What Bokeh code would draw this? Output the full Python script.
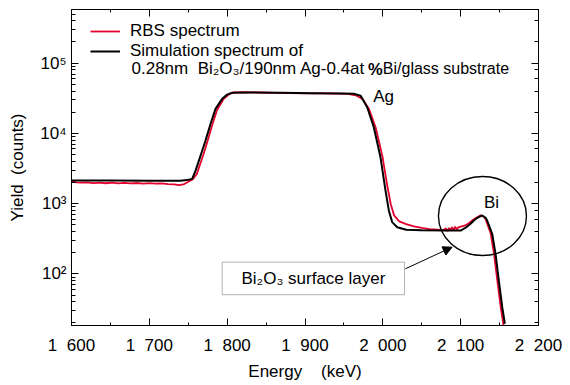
from bokeh.plotting import figure
from bokeh.models import (FixedTicker, LinearAxis, LogAxis, Legend, LegendItem,
                          Label, Arrow, NormalHead, Range1d, BoxAnnotation)
from bokeh.embed import file_html
from bokeh.resources import INLINE

FONT = "Liberation Sans"

# ---------------- data ----------------
energy_sim = [1600, 1650, 1700, 1740, 1748, 1755, 1759.4, 1763.7, 1768, 1772.2, 1778.6,
              1785, 1793.6, 1800, 1806.5, 1830, 1870, 1910, 1950, 1962.7, 1971.3,
              1979.9, 1988.4, 1997, 2003.4, 2007.7, 2012, 2018.5, 2030, 2050, 2080,
              2100, 2106, 2112.7, 2117, 2121.3, 2127.7, 2132, 2134, 2140.5, 2144.8,
              2149, 2153.4, 2156.8]
counts_sim = [2130, 2125, 2120, 2120, 2160, 2250, 2950, 4100, 5700, 7900, 13600,
              22300, 31000, 35600, 38000, 38200, 37800, 37300, 36900, 36600, 34500,
              23500, 12200, 4560, 1540, 800, 545, 462, 425, 418, 414,
              414, 450, 517, 575, 628, 678, 628, 575, 372, 193,
              80.5, 33.6, 19.5]

energy_rbs = [1600, 1606, 1612, 1620, 1628, 1636, 1644, 1652, 1660, 1668, 1676, 1684,
              1692, 1700, 1708, 1716, 1724, 1732, 1738, 1745, 1750, 1756, 1761,
              1765.5, 1770, 1774.5, 1780.5, 1787, 1795.5, 1802, 1808.5, 1820, 1840,
              1860, 1880, 1900, 1920, 1940, 1955, 1965.2, 1973.8, 1982.4, 1990.9,
              1999.5, 2005.9, 2010.2, 2014.5, 2021, 2030, 2040, 2050, 2060, 2070,
              2078, 2081, 2083, 2085, 2087, 2089, 2091, 2093, 2095, 2097, 2100, 2105,
              2111, 2116, 2120, 2125.7, 2130, 2132, 2138.5, 2142.8, 2147, 2151.4,
              2155]
counts_rbs = [2080, 2010, 1990, 2000, 1960, 1985, 1950, 1990, 1945, 1975, 1940, 1965,
              1930, 1955, 1925, 1945, 1900, 1880, 1830, 1900, 2050, 2230, 2650,
              3700, 5200, 7600, 12800, 21500, 31000, 35800, 38300, 38600, 38200,
              37800, 37500, 37200, 37000, 36800, 36600, 34800, 31000, 22000, 12000,
              4700, 1750, 980, 680, 560, 510, 475, 450, 432, 425,
              418, 445, 405, 450, 420, 462, 415, 470, 430, 460, 470, 485,
              530, 590, 630, 680, 650, 600, 380, 195, 82, 34,
              18.5]

x_ticks = [1600, 1700, 1800, 1900, 2000, 2100, 2200]
x_tick_labels = ["1\u00a0\u00a0600", "1\u00a0\u00a0700", "1\u00a0\u00a0800",
                 "1\u00a0\u00a0900", "2\u00a0\u00a0000", "2\u00a0\u00a0100",
                 "2\u00a0\u00a0200"]
x_minor = [1650, 1750, 1850, 1950, 2050, 2150]
y_ticks = [100, 1000, 10000, 100000]
y_tick_labels = ["10\u00b2", "10\u00b3", "10\u2074", "10\u2075"]

# annotation anchors (data coordinates)
circle_center = (2128, 666)
bi_label_pos = (2139.6, 1037)
ag_label_pos = (2000.9, 33400)
box_center = (1910.8, 86)
box_extent = dict(left=1793.6, right=2027.9, bottom=50.5, top=146.7)
arrow_from = (2029, 118)
arrow_to = (2089, 240)
legend_line3 = [(1677.1, "0.28nm\u00a0\u00a0Bi\u2082O\u2083/190nm Ag-0.4at", "normal", "17px"),
                (1981.0, "%", "bold", "16.5px"),
                (2000.0, "Bi/glass substrate", "normal", "16px")]
legend_line3_y = 83500

# ---------------- figure ----------------
p = figure(frame_width=467, frame_height=316,
           x_range=Range1d(1600, 2200), y_range=Range1d(18.4, 5.8e5),
           y_axis_type="log", output_backend="svg", toolbar_location=None,
           min_border_left=71, min_border_top=9, min_border_right=24,
           min_border_bottom=52)
p.xgrid.visible = False
p.ygrid.visible = False
p.outline_line_color = "black"
p.background_fill_color = "white"
p.border_fill_color = "white"

bottom_axis = p.below[0]
left_axis = p.left[0]

xticker = FixedTicker(ticks=x_ticks, minor_ticks=x_minor)
bottom_axis.ticker = xticker
bottom_axis.major_label_overrides = {t: l for t, l in zip(x_ticks, x_tick_labels)}
left_axis.major_label_overrides = {t: l for t, l in zip(y_ticks, y_tick_labels)}
bottom_axis.axis_label = "Energy\u00a0\u00a0\u00a0\u00a0(keV)"
left_axis.axis_label = "Yield\u00a0\u00a0(counts)"

top_axis = LinearAxis(ticker=xticker, major_label_text_font_size="1px",
                      major_label_text_alpha=0, major_label_standoff=0)
right_axis = LogAxis(major_label_text_font_size="1px",
                     major_label_text_alpha=0, major_label_standoff=0)
p.add_layout(top_axis, "above")
p.add_layout(right_axis, "right")

for ax in [bottom_axis, left_axis, top_axis, right_axis]:
    ax.axis_line_color = "black"
    ax.major_tick_line_color = "black"
    ax.minor_tick_line_color = "black"
    ax.major_tick_in = 7
    ax.major_tick_out = 0
    ax.minor_tick_in = 4
    ax.minor_tick_out = 0
    ax.axis_label_text_font = FONT
    ax.axis_label_text_font_size = "17px"
    ax.axis_label_text_font_style = "normal"
    ax.axis_label_text_color = "black"
    ax.major_label_text_font = FONT

bottom_axis.minor_tick_in = 3
top_axis.minor_tick_in = 3
for ax in [bottom_axis, left_axis]:
    ax.major_label_text_font_size = "17px"
    ax.major_label_text_color = "black"
bottom_axis.major_label_standoff = 10
bottom_axis.axis_label_standoff = 4
left_axis.major_label_standoff = 5
left_axis.axis_label_standoff = 10

r_rbs = p.line(energy_rbs, counts_rbs, line_color="#e3002b", line_width=1.8)
r_sim = p.line(energy_sim, counts_sim, line_color="black", line_width=2)

legend = Legend(items=[LegendItem(label="RBS spectrum", renderers=[r_rbs]),
                       LegendItem(label="Simulation spectrum of", renderers=[r_sim])],
                location=(19, 264), padding=0, margin=0, spacing=0,
                glyph_width=30, glyph_height=18, label_height=18,
                label_standoff=10, border_line_color=None,
                background_fill_alpha=0, label_text_font=FONT,
                label_text_font_size="17px", label_text_color="black")
p.add_layout(legend)

for x, txt, style, size in legend_line3:
    p.add_layout(Label(x=x, y=legend_line3_y, text=txt, text_font=FONT,
                       text_font_size=size, text_font_style=style,
                       text_baseline="middle", text_align="left",
                       text_color="black"))

p.ellipse(x=[circle_center[0]], y=[circle_center[1]], width=88, height=79,
          width_units="screen", height_units="screen", fill_color=None,
          line_color="black", line_width=1.4)

p.add_layout(Label(x=bi_label_pos[0], y=bi_label_pos[1], text="Bi", text_font=FONT,
                   text_font_size="17px", text_align="center",
                   text_baseline="middle", text_color="black"))
p.add_layout(Label(x=ag_label_pos[0], y=ag_label_pos[1], text="Ag", text_font=FONT,
                   text_font_size="17px", text_align="center",
                   text_baseline="middle", text_color="black"))
p.add_layout(BoxAnnotation(left=box_extent["left"], right=box_extent["right"],
                           bottom=box_extent["bottom"], top=box_extent["top"],
                           fill_color="white", fill_alpha=1,
                           line_color="black", line_width=1))
p.add_layout(Label(x=box_center[0], y=box_center[1],
                   text="Bi\u2082O\u2083 surface layer", text_font=FONT,
                   text_font_size="17px", text_align="center",
                   text_baseline="middle", text_color="black"))
p.add_layout(Arrow(x_start=arrow_from[0], y_start=arrow_from[1],
                   x_end=arrow_to[0], y_end=arrow_to[1], line_width=1,
                   line_color="black",
                   end=NormalHead(size=9, fill_color="black", line_color="black")))

open("out.html", "w").write(file_html(p, INLINE))
